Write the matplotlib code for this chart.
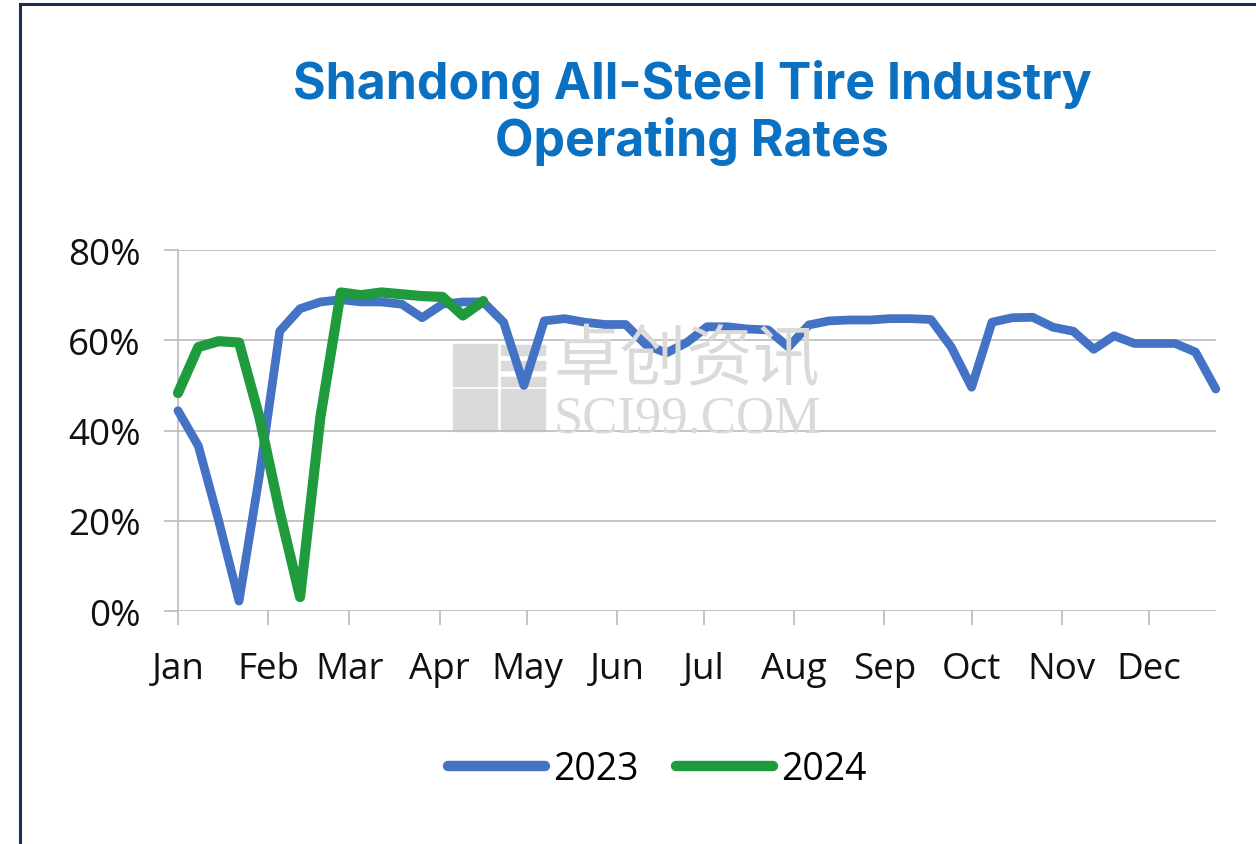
import numpy as np
import matplotlib
matplotlib.use("Agg")
import matplotlib.pyplot as plt
from matplotlib.patches import Rectangle
from matplotlib.lines import Line2D

# weekly operating rates (%), week 0 = first week of January
rate_2023 = [44.4, 36.6, 20.0, 2.2, 30.0, 62.0, 67.0, 68.5, 69.0, 68.5,
             68.5, 68.0, 65.0, 68.0, 68.5, 68.5, 64.0, 50.0, 64.3, 64.8,
             64.0, 63.5, 63.5, 59.0, 57.2, 59.5, 63.0, 63.0, 62.5, 62.3,
             58.5, 63.4, 64.3, 64.5, 64.5, 64.8, 64.8, 64.6, 58.5, 49.6,
             64.0, 65.0, 65.1, 62.9, 62.0, 58.0, 61.0, 59.3, 59.3, 59.3,
             57.4, 49.2]
rate_2024 = [48.3, 58.5, 59.8, 59.5, 43.0, 22.0, 3.1, 43.0, 70.6, 70.0,
             70.6, 70.2, 69.8, 69.6, 65.5, 68.7]

months = ["Jan", "Feb", "Mar", "Apr", "May", "Jun",
          "Jul", "Aug", "Sep", "Oct", "Nov", "Dec"]
month_start_day = [0, 31, 59, 90, 120, 151, 181, 212, 243, 273, 304, 334]
y_ticks = [0, 20, 40, 60, 80]

day_2023 = np.arange(len(rate_2023)) * 7
day_2024 = np.arange(len(rate_2024)) * 7

BLUE = "#4472c4"
GREEN = "#1f9a3c"
GRID = "#bfbfbf"
WM = "#dadada"

fig = plt.figure(figsize=(12.56, 8.45), dpi=100)
fig.patch.set_facecolor("white")
ax = fig.add_axes([0.1417, 0.2757, 0.8263, 0.4272])
ax.set_facecolor("none")

ax.plot(day_2023, rate_2023, color=BLUE, lw=6.3, label="2023",
        solid_capstyle="round", solid_joinstyle="round", clip_on=False, zorder=3)
ax.plot(day_2024, rate_2024, color=GREEN, lw=7.3, label="2024",
        solid_capstyle="round", solid_joinstyle="round", clip_on=False, zorder=4)

ax.set_xlim(0, day_2023[-1])
ax.set_ylim(0, 80)
ax.set_yticks(y_ticks)
ax.set_yticklabels([f"{v}%" for v in y_ticks])
ax.set_xticks(month_start_day)
ax.set_xticklabels(months)

ax.grid(axis="y", color=GRID, lw=1.3, zorder=0)
for s in ["top", "right", "bottom"]:
    ax.spines[s].set_visible(False)
ax.spines["left"].set_color(GRID)
ax.spines["left"].set_linewidth(1.3)
ax.tick_params(axis="both", color=GRID, width=1.3, length=10, labelsize=26.5,
               labelcolor="#111111")
ax.tick_params(axis="y", pad=17)
ax.tick_params(axis="x", pad=19)
for lab in ax.get_xticklabels() + ax.get_yticklabels():
    lab.set_fontfamily("Open Sans")

# faint SCI99 watermark behind the lines
for (x0, y0) in [(0.3607, 0.5420), (0.3607, 0.4890), (0.3990, 0.4890)]:
    fig.add_artist(Rectangle((x0, y0), 0.0350, 0.0500, color=WM, zorder=0))
for k in range(3):
    fig.add_artist(Rectangle((0.3990, 0.5420 + k * 0.0185), 0.0350, 0.0110,
                             color=WM, zorder=0))
fig.text(0.4405, 0.5720, "卓创资讯", fontsize=48, color=WM,
         family=["Noto Sans CJK SC", "DejaVu Sans"], va="center", ha="left",
         zorder=0)
fig.text(0.4405, 0.5040, "SCI99.COM", fontsize=38, color=WM,
         family="Liberation Serif", va="center", ha="left", zorder=0)

fig.text(0.551, 0.900, "Shandong All-Steel Tire Industry", fontsize=36,
         fontweight="bold", color="#0a70c2", family="Inter",
         ha="center", va="center")
fig.text(0.551, 0.832, "Operating Rates", fontsize=36,
         fontweight="bold", color="#0a70c2", family="Inter",
         ha="center", va="center")

leg = fig.legend(loc="center", bbox_to_anchor=(0.523, 0.089), ncol=2,
                 frameon=False, handlelength=2.6, handletextpad=0.2,
                 columnspacing=1.0, prop={"family": "Open Sans", "size": 27})
for h in leg.get_lines():
    h.set_solid_capstyle("round")
    h.set_linewidth(7.5)

# page frame (left and top edges)
fig.add_artist(Line2D([0.0159, 0.0159], [0, 0.994], color="#1c2d4f", lw=2.2))
fig.add_artist(Line2D([0.0159, 1.0], [0.994, 0.994], color="#1c2d4f", lw=2.2))

fig.savefig("out.png", dpi=100, facecolor="white")
